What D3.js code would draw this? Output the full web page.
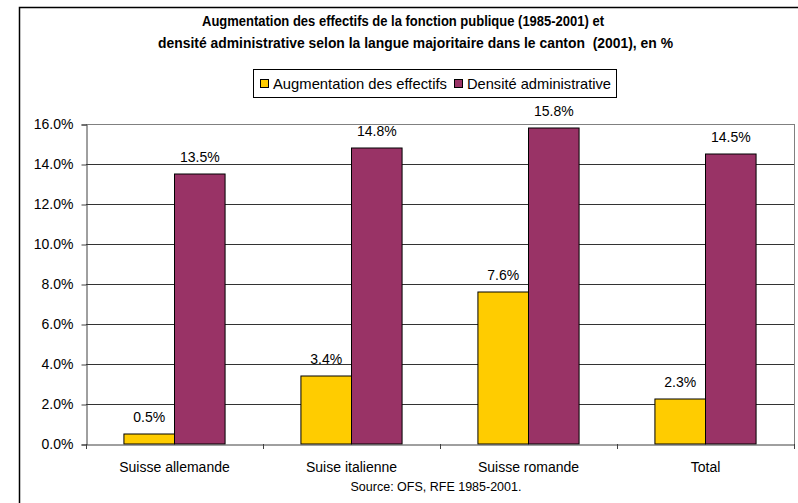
<!DOCTYPE html>
<html>
<head>
<meta charset="utf-8">
<script src="https://cdn.jsdelivr.net/npm/d3@7"></script>
<style>
  html, body { margin: 0; padding: 0; background: #fff; }
  svg { display: block; }
  text { font-family: "Liberation Sans", Arial, sans-serif; fill: #000; }
</style>
</head>
<body>
<svg id="chart" width="798" height="503"></svg>
<script>
const categories = ["Suisse allemande", "Suise italienne", "Suisse romande", "Total"];
const seriesNames = ["Augmentation des effectifs", "Densité administrative"];
const augmentation = [0.5, 3.4, 7.6, 2.25];
const densite = [13.5, 14.8, 15.8, 14.5];
const yTicks = [0, 2, 4, 6, 8, 10, 12, 14, 16];
const colors = ["#FFCC00", "#993366"];
const titleLines = [
  "Augmentation des effectifs de la fonction publique (1985-2001) et",
  "densité administrative selon la langue majoritaire dans le canton  (2001), en %"
];
const sourceText = "Source: OFS, RFE 1985-2001.";

(function () {
const svg = d3.select("#chart");

// outer frame
svg.append("rect").attr("x", 19.5).attr("y", 7.5).attr("width", 820).attr("height", 540)
  .attr("fill", "#fff").attr("stroke", "#000").attr("stroke-width", 1.5);

// title
const titlePos = [{x: 202, y: 26, w: 402}, {x: 158, y: 48, w: 515}];
titleLines.forEach((t, i) => {
  svg.append("text").attr("x", titlePos[i].x).attr("y", titlePos[i].y)
    .attr("font-size", 15).attr("font-weight", "bold")
    .attr("textLength", titlePos[i].w).attr("lengthAdjust", "spacingAndGlyphs")
    .style("white-space", "pre")
    .text(t);
});

// plot area
const pLeft = 86, pRight = 794, pTop = 124, pBottom = 444;
const x0 = d3.scaleBand().domain(categories).range([pLeft, pRight]).paddingInner(0).paddingOuter(0);
const y = d3.scaleLinear().domain([0, 16]).range([pBottom, pTop]);
const x1 = d3.scaleBand().domain([0, 1]).range([x0.bandwidth() * 0.75 / 3.5, x0.bandwidth() * 2.75 / 3.5]).padding(0);

// gridlines
svg.append("g").selectAll("line").data(yTicks.filter(d => d > 0)).join("line")
  .attr("x1", pLeft).attr("x2", pRight).attr("y1", d => Math.round(y(d)) + 0.5).attr("y2", d => Math.round(y(d)) + 0.5)
  .attr("stroke", d => d === 16 ? "#808080" : "#333").attr("stroke-width", 1);

// right border
svg.append("line").attr("x1", pRight + 0.5).attr("x2", pRight + 0.5).attr("y1", pTop).attr("y2", pBottom)
  .attr("stroke", "#808080").attr("stroke-width", 1);

// y axis
const yAxis = d3.axisLeft(y).tickValues(yTicks).tickSize(5).tickPadding(8)
  .tickFormat(d => d.toFixed(1) + "%");
const yg = svg.append("g").attr("transform", `translate(${pLeft + 0.5},0.5)`).call(yAxis);
yg.select(".domain").attr("stroke", "#404040");
yg.selectAll(".tick line").attr("stroke", "#404040");
yg.selectAll("text").attr("font-size", 14).attr("font-family", "Liberation Sans, Arial, sans-serif").attr("fill", "#000");

// bars
const data = categories.map((c, i) => ({c, vals: [augmentation[i], densite[i]]}));
const groups = svg.append("g").selectAll("g").data(data).join("g")
  .attr("transform", d => `translate(${x0(d.c)},0)`);
groups.selectAll("rect").data(d => d.vals.map((v, k) => ({v, k}))).join("rect")
  .attr("x", d => x1(d.k)).attr("width", x1.bandwidth())
  .attr("y", d => y(d.v)).attr("height", d => y(0) - y(d.v))
  .attr("fill", d => colors[d.k]).attr("stroke", "#000").attr("stroke-width", 1);
groups.selectAll("text").data(d => d.vals.map((v, k) => ({v, k}))).join("text")
  .attr("x", d => x1(d.k) + x1.bandwidth() / 2).attr("y", d => y(d.v) - 12)
  .attr("text-anchor", "middle").attr("font-size", 14)
  .text(d => d.v.toFixed(1) + "%");

// x axis
const xAxis = d3.axisBottom(x0).tickSize(0).tickPadding(18);
const xg = svg.append("g").attr("transform", `translate(0,${pBottom + 0.5})`).call(xAxis);
xg.select(".domain").attr("stroke", "#404040");
xg.selectAll("text").attr("font-size", 14).attr("font-family", "Liberation Sans, Arial, sans-serif").attr("fill", "#000");
// category boundary ticks
svg.append("g").selectAll("line").data(d3.range(categories.length + 1)).join("line")
  .attr("x1", i => pLeft + i * x0.step() + 0.5).attr("x2", i => pLeft + i * x0.step() + 0.5)
  .attr("y1", pBottom).attr("y2", pBottom + 5).attr("stroke", "#404040");

// legend
const lg = svg.append("g");
lg.append("rect").attr("x", 253.5).attr("y", 69.5).attr("width", 363).attr("height", 28)
  .attr("fill", "#fff").attr("stroke", "#000").attr("stroke-width", 1);
const legendItems = [{sx: 260, tx: 273, w: 174}, {sx: 454, tx: 467, w: 144}];
seriesNames.forEach((n, i) => {
  lg.append("rect").attr("x", legendItems[i].sx + 0.5).attr("y", 79.5).attr("width", 8).attr("height", 8)
    .attr("fill", colors[i]).attr("stroke", "#000").attr("stroke-width", 1);
  lg.append("text").attr("x", legendItems[i].tx).attr("y", 89).attr("font-size", 14.5)
    .attr("textLength", legendItems[i].w).attr("lengthAdjust", "spacingAndGlyphs").text(n);
});

// source
svg.append("text").attr("x", 436).attr("y", 491).attr("text-anchor", "middle")
  .attr("font-size", 12.5).text(sourceText);
})();
</script>
</body>
</html>
